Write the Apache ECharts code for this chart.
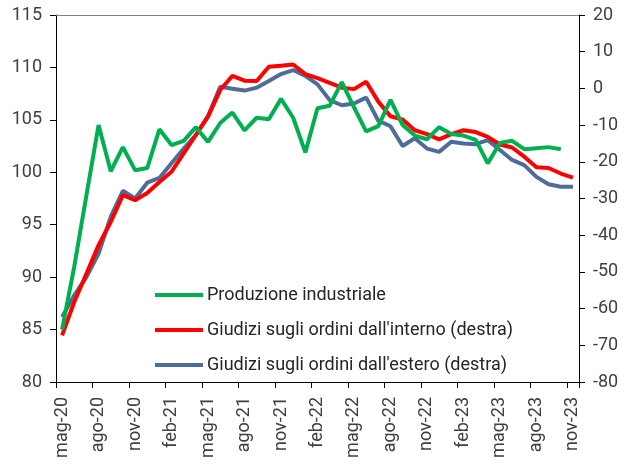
<!DOCTYPE html>
<html>
<head>
<meta charset="utf-8">
<script src="https://cdn.jsdelivr.net/npm/echarts@6/dist/echarts.min.js"></script>
<style>
html,body{margin:0;padding:0;background:#fff;}
#c{width:625px;height:464px;}
</style>
</head>
<body>
<div id="c"></div>
<script>
const categories = ['mag-20','giu-20','lug-20','ago-20','set-20','ott-20','nov-20','dic-20',
  'gen-21','feb-21','mar-21','apr-21','mag-21','giu-21','lug-21','ago-21','set-21','ott-21','nov-21','dic-21',
  'gen-22','feb-22','mar-22','apr-22','mag-22','giu-22','lug-22','ago-22','set-22','ott-22','nov-22','dic-22',
  'gen-23','feb-23','mar-23','apr-23','mag-23','giu-23','lug-23','ago-23','set-23','ott-23','nov-23'];

const produzione = [85.0, 91.0, 97.8, 104.5, 100.1, 102.4, 100.2, 100.4, 104.1, 102.6, 103.0, 104.3,
  102.9, 104.7, 105.7, 104.0, 105.2, 105.05, 107.0, 105.2, 101.9, 106.1, 106.35, 108.6, 106.2, 103.9,
  104.4, 106.9, 104.5, 103.5, 103.15, 104.3, 103.65, 103.5, 103.1, 100.85, 102.8, 103.0, 102.2, 102.3,
  102.4, 102.2, null];

const ordiniInterno = [-67.3, -58.2, -50.5, -42.7, -36.4, -29.1, -30.45, -28.5, -25.5, -22.7, -17.7, -12.7,
  -7.7, -0.45, 3.4, 2.1, 2.0, 5.9, 6.2, 6.5, 3.9, 2.8, 1.5, 0.2, -0.2, 1.8, -3.6, -7.6, -8.5, -11.4,
  -12.45, -13.9, -12.45, -11.4, -11.9, -13.2, -15.3, -16.1, -18.6, -21.5, -21.7, -23.2, -24.3];

const ordiniEstero = [-62.3, -56.4, -51.4, -45.0, -35.0, -27.9, -30.0, -25.7, -24.4, -20.4, -16.4, -12.7,
  -7.5, 0.45, -0.1, -0.6, 0.2, 2.0, 3.9, 5.0, 3.4, 1.1, -3.2, -4.6, -4.1, -2.5, -8.8, -10.3, -15.7, -13.6,
  -16.4, -17.3, -14.55, -15.0, -15.2, -14.1, -16.8, -19.5, -20.9, -24.1, -26.1, -26.8, -26.8];

const seriesNames = ['Produzione industriale', "Giudizi sugli ordini dall'interno (destra)", "Giudizi sugli ordini dall'estero (destra)"];

const txt = '#404040';
const font = 'Roboto';

const chart = echarts.init(document.getElementById('c'), null, {renderer: 'canvas'});
chart.setOption({
  animation: false,
  backgroundColor: '#fff',
  grid: {left: 56, right: 46, top: 15, bottom: 82, containLabel: false},
  legend: {
    left: 155, top: 286, orient: 'vertical', padding: 0,
    icon: 'rect', itemWidth: 48, itemHeight: 4, itemGap: 17,
    textStyle: {fontFamily: font, fontSize: 18, color: '#262626', padding: [0,0,0,-1]},
    data: seriesNames
  },
  xAxis: [{
    type: 'category', data: categories, boundaryGap: true, position: 'bottom',
    axisLine: {onZero: false, lineStyle: {color: '#000', width: 1}},
    axisTick: {show: true, interval: 2, length: 6, inside: false, lineStyle: {color: '#000'}},
    axisLabel: {interval: 2, rotate: 90, margin: 15, fontFamily: font, fontSize: 18, color: txt},
    splitLine: {show: false}
  }, {
    type: 'category', data: categories, boundaryGap: true, position: 'top',
    axisLine: {onZero: false, lineStyle: {color: '#808080', width: 1}},
    axisTick: {show: false}, axisLabel: {show: false}, splitLine: {show: false}
  }],
  yAxis: [{
    type: 'value', min: 80, max: 115, interval: 5, position: 'left',
    axisLine: {show: true, onZero: false, lineStyle: {color: '#000', width: 1}},
    axisTick: {show: true, length: 6, lineStyle: {color: '#000'}},
    axisLabel: {margin: 14, fontFamily: font, fontSize: 18, color: txt},
    splitLine: {show: false}
  }, {
    type: 'value', min: -80, max: 20, interval: 10, position: 'right',
    axisLine: {show: true, onZero: false, lineStyle: {color: '#000', width: 1}},
    axisTick: {show: true, length: 6, lineStyle: {color: '#000'}},
    axisLabel: {margin: 14, fontFamily: font, fontSize: 18, color: txt},
    splitLine: {show: false}
  }],
  series: [{
    name: seriesNames[0], type: 'line', data: produzione, yAxisIndex: 0, z: 4,
    symbol: 'none', color: '#00B050', lineStyle: {width: 4, color: '#00B050'}
  }, {
    name: seriesNames[1], type: 'line', data: ordiniInterno, yAxisIndex: 1, z: 3,
    symbol: 'none', color: '#FF0000', lineStyle: {width: 4, color: '#FF0000'}
  }, {
    name: seriesNames[2], type: 'line', data: ordiniEstero, yAxisIndex: 1, z: 2,
    symbol: 'none', color: '#4E6C98', lineStyle: {width: 4, color: '#4E6C98'}
  }]
});
</script>
</body>
</html>
